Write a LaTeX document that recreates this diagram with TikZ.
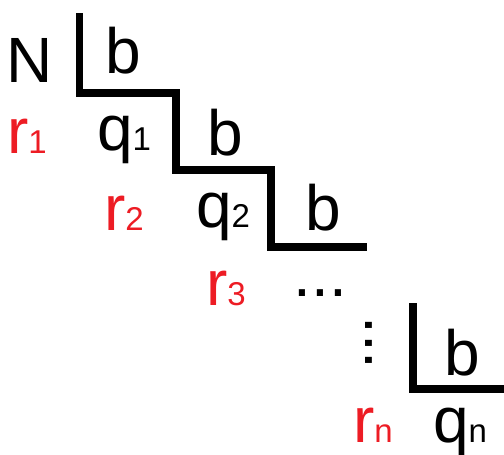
\documentclass[tikz,border=0pt]{standalone}
\usepackage{fontspec}
\setmainfont{Liberation Sans}
\definecolor{lred}{RGB}{237,28,36}
\newcommand{\mysub}[1]{{\fontsize{33}{33}\selectfont #1}}
\begin{document}
\begin{tikzpicture}[x=1pt,y=-1pt,
  lbl/.style={inner sep=0pt,anchor=base,font=\fontsize{64}{70}\selectfont},
  rlbl/.style={lbl,text=lred},
  stair/.style={line width=7.5pt,line join=miter,line cap=butt}]
\useasboundingbox (0,0) rectangle (504,455);
% staircase
\coordinate (s0) at (79.5,13);
\coordinate (s1) at (79.5,93);
\coordinate (s2) at (176,93);
\coordinate (s3) at (176,170);
\coordinate (s4) at (271,170);
\coordinate (s5) at (271,247);
\coordinate (s6) at (367,247);
\draw[stair] (s0) -- (s1) -- (s2) -- (s3) -- (s4) -- (s5) -- (s6);
\coordinate (t0) at (413,303);
\coordinate (t1) at (413,389);
\coordinate (t2) at (504,389);
\draw[stair] (t0) -- (t1) -- (t2);
% labels
\node[lbl] (N) at (30,82) {N};
\node[lbl] (b1) at (123,73) {b};
\node[rlbl] (r1) at (27,153) {r\mysub{1}};
\node[lbl] (q1) at (124,150) {q\mysub{1}};
\node[lbl] (b2) at (225,155) {b};
\node[rlbl] (r2) at (124,230) {r\mysub{2}};
\node[lbl] (q2) at (223,227) {q\mysub{2}};
\node[lbl] (b3) at (323,230) {b};
\node[rlbl] (r3) at (226,305) {r\mysub{3}};
\node[lbl] (hd) at (320.5,296.5) {...};
\node[lbl,rotate=-90,anchor=center] (vd) at (369,343) {...};
\node[lbl] (b4) at (462,375) {b};
\node[rlbl] (rn) at (373,442) {r\mysub{n}};
\node[lbl] (qn) at (460,442) {q\mysub{n}};
\end{tikzpicture}
\end{document}
